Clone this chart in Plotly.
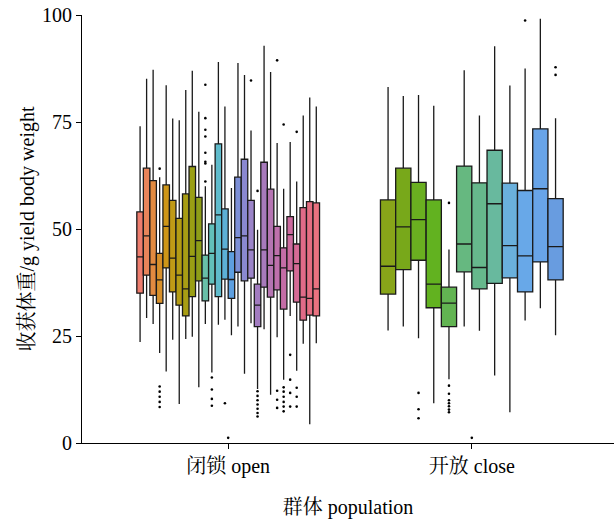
import plotly.graph_objects as go

# ---------------- data ----------------
groups = ["闭锁 open", "开放 close"]

# open population: 28 families
open_q1 = [35.0, 39.2, 34.5, 32.6, 40.9, 35.3, 32.2, 29.7, 34.2, 37.9,
           33.2, 37.1, 34.2, 38.3, 33.8, 39.9, 37.9, 38.5, 27.2, 36.4,
           34.1, 35.8, 31.3, 40.2, 32.9, 28.7, 29.9, 29.7]
open_med = [43.5, 48.4, 41.7, 38.1, 50.6, 43.2, 39.2, 36.0, 43.6, 47.3,
            38.5, 44.3, 53.3, 45.3, 38.2, 48.0, 48.4, 45.1, 32.2, 45.1,
            41.5, 43.8, 40.9, 48.7, 41.9, 34.1, 33.8, 36.0]
open_q3 = [54.0, 64.2, 61.3, 44.3, 60.3, 56.7, 52.5, 58.2, 64.6, 57.4,
           43.9, 51.2, 69.9, 54.7, 44.7, 62.1, 66.3, 56.7, 37.1, 65.6,
           59.3, 50.6, 45.6, 52.9, 46.5, 55.0, 56.4, 56.1]
open_lo = [23.6, 29.2, 27.8, 21.0, 16.7, 24.1, 9.1, 24.3, 24.8, 13.0,
           27.8, 16.5, 27.6, 28.8, 25.2, 27.2, 16.2, 28.0, 12.6, 26.6,
           11.3, 24.7, 14.8, 29.7, 16.9, 23.2, 4.4, 23.3]
open_hi = [74.0, 85.1, 87.2, 62.1, 83.6, 75.8, 75.4, 82.5, 87.0, 77.4,
           60.0, 65.0, 89.0, 78.6, 59.6, 88.8, 86.0, 73.0, 49.8, 92.8,
           86.7, 70.1, 59.4, 70.3, 61.1, 76.5, 80.7, 78.6]
open_colors = ["#EE7D6E", "#E8845A", "#E28A40", "#D8902A", "#CE9618",
               "#C09A16", "#B49C14", "#A89D14", "#9A9F14", "#8E9E18",
               "#68BFA8", "#62C0BA", "#5FBBCB", "#5DB0D6", "#5D9FE0",
               "#7C8FD6", "#8A88D0", "#9B84C8", "#A27CC0", "#A87ABC",
               "#B574B2", "#BE70AC", "#C46DA6", "#CC6A9E", "#D56A95",
               "#E06B88", "#E56E82", "#EA7280"]
open_outliers = {
    3: [64.1, 13.2, 12.0, 10.8, 9.6, 8.4],
    10: [83.7, 75.9, 73.2, 71.6, 67.8, 65.7, 65.3, 61.1],
    11: [15.3, 12.5, 10.3, 8.7],
    13: [9.3],
    17: [84.7],
    18: [58.9, 12.1, 11.0, 10.0, 9.0, 8.0, 7.0, 6.2],
    21: [89.4, 12.2, 10.1, 8.2],
    22: [74.4, 13.0, 12.0, 10.8, 9.6, 8.5, 7.4],
    23: [20.6, 14.8, 11.7, 8.5],
    24: [72.7, 12.9, 10.8, 8.5],
}

# close population: 12 families
close_q1 = [34.8, 40.5, 42.7, 31.6, 27.2, 40.0, 36.0, 37.3, 38.6, 35.3, 42.3, 38.1]
close_med = [41.3, 50.5, 52.2, 37.1, 32.7, 46.5, 41.0, 55.9, 46.1, 43.7, 59.4, 45.9]
close_q3 = [56.8, 64.2, 60.9, 56.8, 36.4, 64.7, 60.8, 68.4, 60.7, 59.0, 73.4, 57.1]
close_lo = [26.3, 27.2, 24.5, 9.3, 14.9, 27.2, 26.2, 15.8, 7.2, 28.6, 31.5, 25.2]
close_hi = [83.2, 81.1, 81.3, 78.8, 45.2, 87.1, 76.5, 92.7, 83.5, 87.5, 99.1, 75.9]
close_colors = ["#88A519", "#78A81A", "#6AAF20", "#62B220", "#62B452", "#66B880",
                "#66B88C", "#68B99E", "#6AB0DC", "#68A8E8", "#68A4E8", "#689CE0"]
close_outliers = {
    2: [11.7, 7.9, 5.8],
    4: [56.1, 13.4, 11.5, 10.0, 9.3, 8.6, 7.8, 7.2],
    9: [98.7],
    11: [87.8, 86.0],
}

# isolated points at the category centres
center_points = [1.2, 1.2]

y_ticks = [0, 25, 50, 75, 100]
x_title = "群体 population"
y_title = "收获体重/g yield body weight"

# ---------------- figure ----------------
FONT = "Liberation Serif, 'Noto Serif CJK SC', 'Noto Sans CJK SC', serif"
DODGE = 0.75

fig = go.Figure()

def add_group(center, q1, med, q3, lo, hi, colors, outliers):
    n = len(q1)
    w = DODGE / n
    ox, oy = [], []
    for i in range(n):
        pos = center - DODGE / 2 + (i + 0.5) * w
        fig.add_trace(go.Box(
            x=[pos], q1=[q1[i]], median=[med[i]], q3=[q3[i]],
            lowerfence=[lo[i]], upperfence=[hi[i]],
            width=w, fillcolor=colors[i],
            line=dict(color="#1a1a1a", width=1.3),
            whiskerwidth=0, boxpoints=False, showlegend=False,
            hoverinfo="skip",
        ))
        for v in outliers.get(i, []):
            ox.append(pos)
            oy.append(v)
    fig.add_trace(go.Scatter(
        x=ox, y=oy, mode="markers",
        marker=dict(color="black", size=2.6),
        showlegend=False, hoverinfo="skip",
    ))

add_group(1, open_q1, open_med, open_q3, open_lo, open_hi, open_colors, open_outliers)
add_group(2, close_q1, close_med, close_q3, close_lo, close_hi, close_colors, close_outliers)

fig.add_trace(go.Scatter(
    x=[1, 2], y=center_points, mode="markers",
    marker=dict(color="black", size=2.6),
    showlegend=False, hoverinfo="skip",
))

fig.update_layout(
    width=614, height=519,
    margin=dict(l=82, r=0, t=15, b=76),
    paper_bgcolor="white", plot_bgcolor="white",
    boxmode="overlay",
    font=dict(family=FONT, size=20, color="black"),
)
fig.update_xaxes(
    automargin=False,
    range=[0.4, 2.5836],
    tickmode="array", tickvals=[1, 2], ticktext=groups,
    showline=True, linecolor="black", linewidth=1.2,
    ticks="outside", ticklen=5, tickwidth=1.2, tickcolor="black",
    showgrid=False, zeroline=False,
    tickfont=dict(family=FONT, size=20, color="black"),
    title=dict(text=x_title, font=dict(family=FONT, size=20, color="black"), standoff=22),
)
fig.update_yaxes(
    automargin=False,
    ticklabeloverflow="allow",
    range=[0, 100],
    tickmode="array", tickvals=y_ticks,
    showline=True, linecolor="black", linewidth=1.2,
    ticks="outside", ticklen=5, tickwidth=1.2, tickcolor="black",
    showgrid=False, zeroline=False,
    tickfont=dict(family=FONT, size=20, color="black"),
    title=dict(text=y_title, font=dict(family=FONT, size=20, color="black"), standoff=1),
)

# remove the default page margin so the figure sits at the window's corner
fig.write_html("out.html", config={"displayModeBar": False},
               post_script="document.body.style.margin='0';")
